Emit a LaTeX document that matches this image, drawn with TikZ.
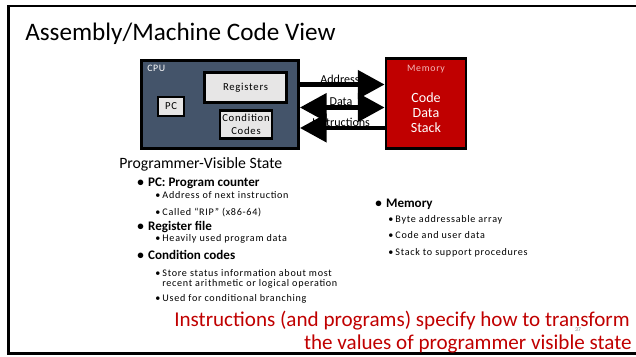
\documentclass[tikz,border=0pt]{standalone}
\usepackage{fontspec}
\setmainfont{Carlito}
\newfontfamily\widefont[LetterSpace=7]{Carlito}
\usetikzlibrary{arrows.meta,calc}
\definecolor{cpublue}{HTML}{44546A}
\definecolor{memred}{HTML}{C00000}
\definecolor{boxgray}{HTML}{E7E6E6}
\definecolor{notered}{HTML}{C00000}
\definecolor{memlabel}{HTML}{F4B8B8}
\newcommand\itm{\makebox[0.27cm][l]{•}}
\newcommand\subitm{\makebox[0.18cm][l]{•}}

\begin{document}
\begin{tikzpicture}[x=0.025cm,y=-0.025cm,
  part/.style={draw,line width=2.1pt,inner sep=0pt},
  inbox/.style={part,fill=boxgray,align=center,font=\widefont\fontsize{7.6}{9.5}\selectfont},
  txt/.style={anchor=base west,inner sep=0pt},
  head/.style={txt,font=\fontsize{9.3}{11}\selectfont\bfseries},
  sub/.style={txt,font=\widefont\fontsize{7.2}{9}\selectfont},
  buslabel/.style={anchor=base,inner sep=0pt,font=\fontsize{8.6}{10}\selectfont},
  bus/.style={line width=2.9pt},
  tip/.tip={Triangle[length=19pt,width=20pt]}]
  \useasboundingbox (0,0) rectangle (636,356);
  \clip (0,0) rectangle (636,356);
  \draw[line width=1.8pt] (8.5,6) rectangle (660,353.5);
  \node[txt,font=\fontsize{17.9}{21}\selectfont] (title) at (25,40) {Assembly/Machine Code View};

  % cpu and memory
  \node[part,fill=cpublue,minimum width=3.925cm,minimum height=2.2cm] (cpu) at (220,104.5) {};
  \node[txt,white,font=\widefont\fontsize{7}{9}\selectfont] (cpulbl) at (147,71) {CPU};
  \node[inbox,minimum width=2.05cm,minimum height=0.75cm] (regs) at (245.5,87.5) {Registers};
  \node[inbox,minimum width=0.65cm,minimum height=0.475cm] (pc) at (171,106.5) {PC};
  \node[inbox,minimum width=1.3cm,minimum height=0.72cm] (cc) at (246,124.5) {Condition\\Codes};
  \node[part,fill=memred,minimum width=2.0cm,minimum height=2.25cm] (mem) at (426,103.5) {};
  \node[anchor=base,inner sep=0pt,memlabel,font=\widefont\fontsize{7}{9}\selectfont] (memlbl) at (426,71) {Memory};
  \node[white,align=center,inner sep=0pt,font=\fontsize{10}{10.6}\selectfont] (memtxt) at (426,113) {Code\\Data\\Stack};

  % buses
  \node[buslabel] (addr) at (340,83) {Address};
  \node[buslabel] (data) at (341,105.5) {Data};
  \node[buslabel] (instr) at (341,126.5) {Instructions};
  \draw[bus,-tip] ($(cpu.east)+(0,-20)$) -- ($(mem.west)+(0,-19)$);
  \draw[bus,tip-tip] ($(cpu.east)+(0,3)$) -- ($(mem.west)+(0,4)$);
  \draw[bus,tip-] ($(cpu.east)+(0,23.5)$) -- ($(mem.west)+(0,24.5)$);

  % programmer-visible state
  \node[txt,font=\fontsize{11.2}{13}\selectfont] (pvs) at (119,168) {Programmer-Visible State};
  \node[head] (pchead) at (137,186) {\itm PC: Program counter};
  \node[sub] (pc1) at (155,198) {\subitm Address of next instruction};
  \node[sub] (pc2) at (155,215) {\subitm Called “RIP” (x86-64)};
  \node[head] (rfhead) at (137,230) {\itm Register file};
  \node[sub] (rf1) at (155,241) {\subitm Heavily used program data};
  \node[head] (cchead) at (137,259) {\itm Condition codes};
  \node[sub] (cc1) at (155,276) {\subitm Store status information about most};
  \node[sub] (cc2) at (162,286) {recent arithmetic or logical operation};
  \node[sub] (cc3) at (155,301) {\subitm Used for conditional branching};

  % memory notes
  \node[head] (memhead) at (375,207) {\itm Memory};
  \node[sub] (mem1) at (388,222) {\subitm Byte addressable array};
  \node[sub] (mem2) at (388,238) {\subitm Code and user data};
  \node[sub] (mem3) at (388,255) {\subitm Stack to support procedures};

  \node[anchor=base east,inner sep=0pt,notered,font=\fontsize{15}{18}\selectfont] (note1) at (630,326) {Instructions (and programs) specify how to transform};
  \node[anchor=base east,inner sep=0pt,notered,font=\fontsize{15}{18}\selectfont] (note2) at (632,349) {the values of programmer visible state};
  \node[anchor=base,inner sep=0pt,gray,font=\fontsize{4}{5}\selectfont] (pgno) at (578,331) {37};
\end{tikzpicture}
\end{document}
